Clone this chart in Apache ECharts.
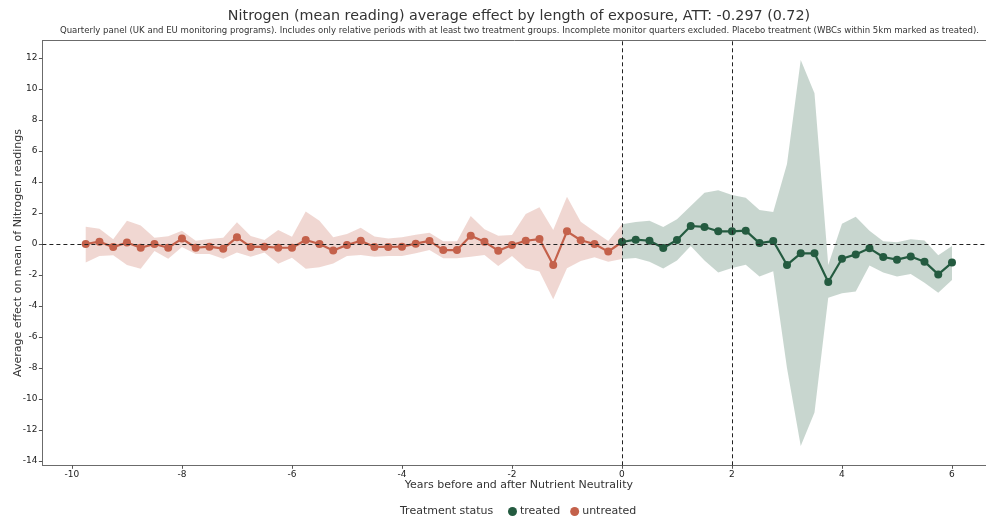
<!DOCTYPE html>
<html>
<head>
<meta charset="utf-8">
<style>
  html, body { margin: 0; padding: 0; background: #fff; }
  #chart { width: 986px; height: 518px; }
</style>
<script src="https://cdn.jsdelivr.net/npm/echarts@6/dist/echarts.min.js"></script>
</head>
<body>
<div id="chart"></div>
<script>
// Relative period (years) for each quarter before treatment; the last entry joins the treated line at 0
var untreatedX = [-9.75, -9.5, -9.25, -9.0, -8.75, -8.5, -8.25, -8.0, -7.75, -7.5,
  -7.25, -7.0, -6.75, -6.5, -6.25, -6.0, -5.75, -5.5, -5.25, -5.0,
  -4.75, -4.5, -4.25, -4.0, -3.75, -3.5, -3.25, -3.0, -2.75, -2.5,
  -2.25, -2.0, -1.75, -1.5, -1.25, -1.0, -0.75, -0.5, -0.25, 0];
var untreatedEffect = [0.0, 0.15, -0.2, 0.1, -0.24, 0.0, -0.24, 0.35, -0.24, -0.17,
  -0.3, 0.43, -0.19, -0.17, -0.24, -0.24, 0.26, 0.0, -0.42, -0.06,
  0.21, -0.19, -0.19, -0.17, 0.02, 0.2, -0.39, -0.39, 0.53, 0.14,
  -0.43, -0.06, 0.21, 0.32, -1.35, 0.82, 0.24, 0.0, -0.49, 0.13];
var untreatedUpper = [1.12, 0.99, 0.3, 1.5, 1.2, 0.4, 0.5, 0.86, 0.21, 0.32,
  0.4, 1.4, 0.52, 0.26, 0.9, 0.47, 2.1, 1.5, 0.43, 0.64,
  1.05, 0.49, 0.35, 0.43, 0.6, 0.73, 0.17, 0.17, 1.8, 0.95,
  0.54, 0.58, 1.94, 2.37, 0.9, 3.05, 1.44, 0.8, 0.2, 1.27];
var untreatedLower = [-1.2, -0.77, -0.73, -1.35, -1.59, -0.45, -0.95, -0.2, -0.65, -0.65,
  -0.95, -0.54, -0.82, -0.54, -1.27, -0.88, -1.59, -1.5, -1.25, -0.77,
  -0.71, -0.82, -0.77, -0.77, -0.6, -0.39, -0.92, -0.92, -0.82, -0.71,
  -1.42, -0.77, -1.57, -1.78, -3.57, -1.57, -1.1, -0.86, -1.14, -0.97];

// Quarters after Nutrient Neutrality
var treatedX = [0, 0.25, 0.5, 0.75, 1.0, 1.25, 1.5, 1.75, 2.0, 2.25,
  2.5, 2.75, 3.0, 3.25, 3.5, 3.75, 4.0, 4.25, 4.5, 4.75,
  5.0, 5.25, 5.5, 5.75, 6.0];
var treatedEffect = [0.13, 0.28, 0.21, -0.26, 0.26, 1.16, 1.1, 0.82, 0.82, 0.86,
  0.06, 0.19, -1.35, -0.6, -0.6, -2.45, -0.95, -0.67, -0.28, -0.84,
  -1.01, -0.8, -1.14, -1.96, -1.2];
var treatedUpper = [1.27, 1.42, 1.5, 1.1, 1.6, 2.45, 3.31, 3.46, 3.16, 2.99,
  2.19, 2.06, 5.16, 11.87, 9.72, -1.35, 1.3, 1.76, 0.86, 0.17,
  0.11, 0.3, 0.22, -0.73, -0.13];
var treatedLower = [-0.97, -0.9, -1.14, -1.58, -1.06, -0.13, -1.07, -1.83, -1.55, -1.33,
  -2.09, -1.76, -8.0, -13.03, -10.87, -3.46, -3.18, -3.07, -1.39, -1.83,
  -2.09, -1.94, -2.5, -3.14, -2.32];

var xTicks = [-10, -8, -6, -4, -2, 0, 2, 4, 6];
var yTicks = [-14, -12, -10, -8, -6, -4, -2, 0, 2, 4, 6, 8, 10, 12];
var eventLines = [0, 2];

var RED = '#c4614b';
var GREEN = '#245b40';
var FONT = 'DejaVu Sans';

function pairs(xs, ys) {
  return xs.map(function (x, i) { return [x, ys[i]]; });
}

// Confidence band drawn as one filled polygon: upper edge left-to-right, lower edge back
function band(name, xs, lo, hi, color) {
  return {
    name: name, type: 'custom', silent: true, z: 1,
    data: xs.map(function (x, i) { return [x, lo[i], hi[i]]; }),
    encode: { x: 0, y: [1, 2] },
    renderItem: function (params, api) {
      if (params.dataIndex !== 0) return null;
      var pts = [];
      for (var i = 0; i < xs.length; i++) pts.push(api.coord([xs[i], hi[i]]));
      for (var j = xs.length - 1; j >= 0; j--) pts.push(api.coord([xs[j], lo[j]]));
      return {
        type: 'polygon',
        shape: { points: pts },
        style: { fill: color, opacity: 0.25 }
      };
    }
  };
}

var chart = echarts.init(document.getElementById('chart'), null, { renderer: 'canvas' });

var option = {
  animation: false,
  backgroundColor: '#ffffff',
  textStyle: { fontFamily: FONT },
  grid: { left: 42.4, top: 40.7, width: 952.9, height: 424.6, containLabel: false, outerBoundsMode: 'none' },
  xAxis: [
    {
      type: 'value', min: -10.5375, max: 6.7875,
      name: 'Years before and after Nutrient Neutrality',
      nameLocation: 'middle', nameGap: 14, nameMoveOverlap: false,
      nameTextStyle: { fontFamily: FONT, fontSize: 11, color: '#333' },
      axisLine: { show: true, onZero: false, lineStyle: { color: '#6b6b6b', width: 1 } },
      axisTick: { show: true, length: 3.5, lineStyle: { color: '#555' }, customValues: xTicks },
      axisLabel: { fontFamily: FONT, fontSize: 9, color: '#222', margin: 5, customValues: xTicks },
      splitLine: { show: false }
    },
    {
      type: 'value', position: 'top', min: -10.5375, max: 6.7875,
      axisLine: { show: true, onZero: false, lineStyle: { color: '#6b6b6b', width: 1 } },
      axisTick: { show: false }, axisLabel: { show: false }, splitLine: { show: false }
    }
  ],
  yAxis: {
    type: 'value', min: -14.275, max: 13.115,
    name: 'Average effect on mean of Nitrogen readings',
    nameLocation: 'middle', nameGap: 19, nameRotate: 90, nameMoveOverlap: false,
    nameTextStyle: { fontFamily: FONT, fontSize: 11, color: '#333' },
    axisLine: { show: true, onZero: false, lineStyle: { color: '#6b6b6b', width: 1 } },
    axisTick: { show: true, length: 3.5, lineStyle: { color: '#555' }, customValues: yTicks },
    axisLabel: { fontFamily: FONT, fontSize: 9, color: '#222', margin: 5, customValues: yTicks },
    splitLine: { show: false }
  },
  legend: {
    data: [
      { name: 'treated', icon: 'circle' },
      { name: 'untreated', icon: 'circle' }
    ],
    left: 503, top: 501, itemWidth: 9, itemHeight: 9, itemGap: 10,
    textStyle: { fontFamily: FONT, fontSize: 11, color: '#333', padding: [0, 0, 0, -2] }
  },
  graphic: [
    {
      type: 'text', x: 519, y: 9.5,
      style: {
        text: 'Nitrogen (mean reading) average effect by length of exposure, ATT: -0.297 (0.72)',
        font: '14.3px "DejaVu Sans"', fill: '#333', align: 'center'
      }
    },
    {
      type: 'text', x: 519.5, y: 26.5,
      style: {
        text: 'Quarterly panel (UK and EU monitoring programs). Includes only relative periods with at least two treatment groups. Incomplete monitor quarters excluded. Placebo treatment (WBCs within 5km marked as treated).',
        font: '8.55px "DejaVu Sans"', fill: '#333', align: 'center'
      }
    },
    {
      type: 'text', x: 400, y: 505.5,
      style: { text: 'Treatment status', font: '11px "DejaVu Sans"', fill: '#333' }
    }
  ],
  series: [
    band('untreatedCI', untreatedX, untreatedLower, untreatedUpper, RED),
    band('treatedCI', treatedX, treatedLower, treatedUpper, GREEN),
    {
      name: 'reference', type: 'line', data: [], z: 2, silent: true,
      markLine: {
        silent: true, symbol: 'none', label: { show: false },
        lineStyle: { color: '#222', type: [4, 3], width: 1 },
        emphasis: { disabled: true },
        data: [{ yAxis: 0 }].concat(eventLines.map(function (v) { return { xAxis: v }; }))
      }
    },
    {
      name: 'untreated', type: 'line', data: pairs(untreatedX, untreatedEffect),
      color: RED, symbol: 'circle', symbolSize: 8,
      lineStyle: { color: RED, width: 2.2 }, itemStyle: { color: RED }, z: 3
    },
    {
      name: 'treated', type: 'line', data: pairs(treatedX, treatedEffect),
      color: GREEN, symbol: 'circle', symbolSize: 8,
      lineStyle: { color: GREEN, width: 2.2 }, itemStyle: { color: GREEN }, z: 4
    }
  ]
};

chart.setOption(option);
</script>
</body>
</html>
